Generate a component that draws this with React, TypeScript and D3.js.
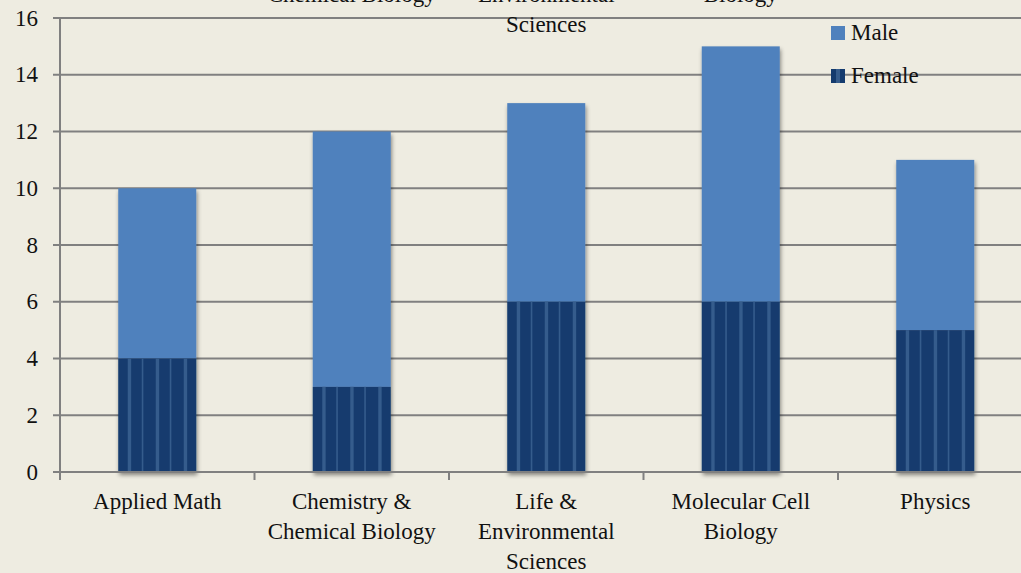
import React from "react";
import * as d3 from "d3";

const categories = ["Applied Math", "Chemistry & Chemical Biology", "Life & Environmental Sciences", "Molecular Cell Biology", "Physics"];
const labelLines = [["Applied Math"], ["Chemistry &", "Chemical Biology"], ["Life &", "Environmental", "Sciences"], ["Molecular Cell", "Biology"], ["Physics"]];
const female = [4, 3, 6, 6, 5];
const male = [6, 9, 7, 9, 6];
const yTicks = [0, 2, 4, 6, 8, 10, 12, 14, 16];

const W = 1021, H = 573;
const BG = "#EEECE1";
const MALE = "#4F81BD";
const FEMALE = "#143B6E";
const STRIPE = "#355C8C";
const GRID = "#808080";
const FONT = "'Liberation Serif', 'Times New Roman', serif";
const txt = { fontFamily: FONT, fontSize: "23px" } as React.CSSProperties;

export default function App() {
  const left = 60, step = 194.5;
  const x = d3.scaleBand<string>().domain(categories).range([left, left + step * categories.length]).padding(0);
  const y = d3.scaleLinear().domain([0, 16]).range([472, 18]);
  const bw = x.bandwidth() * 0.401;

  const stripes = (bx: number, by: number, h: number, key: string) =>
    d3.range(5).map((k) => (
      <rect key={key + k} x={bx + 9.5 + k * 14} y={by} width={k % 2 === 0 ? 3.4 : 1.6} height={h} fill={STRIPE} />
    ));

  const labels = (dy: number, keyp: string) =>
    categories.map((c, i) => (
      <text key={keyp + c} textAnchor="middle" dominantBaseline="central" style={txt} fill="#111">
        {labelLines[i].map((l, j) => (
          <tspan key={j} x={x(c)! + x.bandwidth() / 2} y={501 + dy + j * 30}>{l}</tspan>
        ))}
      </text>
    ));

  return (
    <svg width={W} height={H} style={{ position: "absolute", left: 0, top: 0, background: BG }}>
      <defs>
        <filter id="sh" x="-20%" y="-10%" width="140%" height="120%">
          <feDropShadow dx={1} dy={3} stdDeviation={2.2} floodColor="#000" floodOpacity={0.45} />
        </filter>
      </defs>
      <rect x={0} y={0} width={W} height={H} fill={BG} />
      {yTicks.map((t) => (
        <line key={"g" + t} x1={53} x2={W} y1={y(t)} y2={y(t)} stroke={GRID} strokeWidth={2} />
      ))}
      {categories.map((c, i) => {
        const bx = x(c)! + (x.bandwidth() - bw) / 2;
        const yf = y(female[i]);
        const ym = y(female[i] + male[i]);
        return (
          <g key={"b" + c}>
            <g filter="url(#sh)">
              <rect x={bx} y={ym} width={bw} height={yf - ym} fill={MALE} />
              <rect x={bx} y={yf} width={bw} height={y(0) - yf} fill={FEMALE} />
            </g>
            {stripes(bx, yf, y(0) - yf, "s" + i)}
          </g>
        );
      })}
      <line x1={left} x2={left} y1={y(16) - 1} y2={480} stroke={GRID} strokeWidth={2} />
      <line x1={53} x2={W} y1={y(0)} y2={y(0)} stroke={GRID} strokeWidth={2} />
      {categories.slice(1).map((c) => (
        <line key={"t" + c} x1={x(c)!} x2={x(c)!} y1={y(0)} y2={480} stroke={GRID} strokeWidth={2} />
      ))}
      {yTicks.map((t) => (
        <text key={"yl" + t} x={38} y={y(t)} textAnchor="end" dominantBaseline="central" style={txt} fill="#111">{t}</text>
      ))}
      {labels(0, "bl")}
      {labels(-537, "tl")}
      <rect x={831} y={26} width={14} height={14} fill={MALE} />
      <text x={851} y={32} dominantBaseline="central" style={txt} fill="#111">Male</text>
      <rect x={831} y={69} width={14} height={14} fill={FEMALE} />
      <rect x={836} y={69} width={4} height={14} fill={STRIPE} />
      <text x={851} y={75} dominantBaseline="central" style={txt} fill="#111">Female</text>
    </svg>
  );
}
